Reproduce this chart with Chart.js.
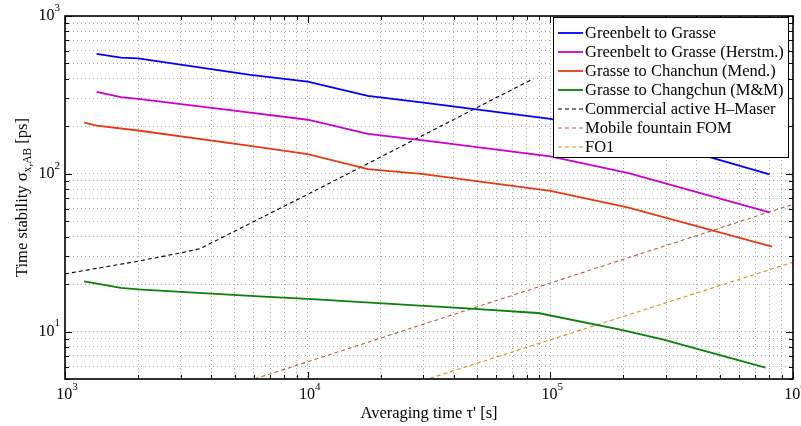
<!DOCTYPE html>
<html>
<head>
<meta charset="utf-8">
<script src="https://cdn.jsdelivr.net/npm/chart.js@4.4.1/dist/chart.umd.min.js"></script>
<style>
  html, body { margin: 0; padding: 0; background: #fff; }
  #wrap { width: 801px; height: 426px; }
</style>
</head>
<body>
<div id="wrap"><canvas id="stability-chart" width="801" height="426"></canvas></div>
<script>
// tick labels (powers of ten)
var xTicks = [1e3, 1e4, 1e5, 1e6];
var yTicks = [1e1, 1e2, 1e3];

// Greenbelt to Grasse
var g2gTau   = [1350, 1700, 2000, 5800, 10000, 17700, 30000, 100000, 200000, 450000, 800000];
var g2gSigma = [575, 545, 538, 423, 384, 312, 282, 223, 175, 128, 99];

// Greenbelt to Grasse (Herstm.)
var herTau   = [1350, 1700, 2000, 5800, 10000, 17700, 30000, 100000, 210000, 800000];
var herSigma = [330, 306, 298, 244, 220, 179, 163, 129, 101, 57];

// Grasse to Chanchun (Mend.)
var menTau   = [1200, 1350, 2000, 5800, 10000, 17700, 30000, 100000, 210000, 820000];
var menSigma = [211, 202, 188, 150, 133, 107, 99.6, 78, 61, 34.5];

// Grasse to Changchun (M&M)
var mmTau   = [1200, 1700, 2000, 6300, 10000, 29000, 42000, 89000, 192000, 290000, 770000];
var mmSigma = [20.8, 18.9, 18.5, 16.7, 16.1, 14.6, 14.1, 13.1, 10.3, 8.9, 5.9];

// Commercial active H-Maser
var maserTau   = [1000, 2000, 3000, 3600, 10000, 85000];
var maserSigma = [23.2, 27.9, 31.5, 33.5, 74, 400];

// Mobile fountain FOM
var fomTau   = [5000, 1000000];
var fomSigma = [4.55, 64];

// FO1
var fo1Tau   = [30000, 1000000];
var fo1Sigma = [4.9, 27.5];

var serif = '"Liberation Serif", "DejaVu Serif", serif';

function toPoints(tau, sigma) {
  var pts = [];
  for (var i = 0; i < tau.length; i++) {
    pts.push({ x: tau[i], y: sigma[i] });
  }
  return pts;
}

function series(label, tau, sigma, color, dashed) {
  return {
    label: label,
    data: toPoints(tau, sigma),
    borderColor: color,
    backgroundColor: color,
    borderWidth: dashed ? 1.1 : 1.8,
    borderDash: dashed ? [4, 3] : [],
    pointRadius: 0,
    tension: 0,
    fill: false
  };
}

// 1..9 x 10^n positions for the grid
function decadeGrid(lo, hi) {
  var vals = [];
  for (var e = Math.floor(Math.log10(lo)); e <= Math.ceil(Math.log10(hi)); e++) {
    for (var s = 1; s < 10; s++) {
      var v = s * Math.pow(10, e);
      if (v >= lo - 1e-9 && v <= hi + 1e-9) vals.push(v);
    }
  }
  return vals;
}

function drawPow(ctx, x, y, exp, align) {
  ctx.font = '16px ' + serif;
  var baseW = ctx.measureText('10').width;
  ctx.font = '11px ' + serif;
  var expW = ctx.measureText(String(exp)).width;
  var left = align === 'right' ? x - baseW - expW : x - (baseW + expW) / 2;
  ctx.textAlign = 'left';
  ctx.textBaseline = 'middle';
  ctx.font = '16px ' + serif;
  ctx.fillText('10', left, y);
  ctx.font = '11px ' + serif;
  ctx.fillText(String(exp), left + baseW, y - 8);
}

var framePlugin = {
  id: 'frame',
  afterDraw: function(chart) {
    var ctx = chart.ctx;
    var a = chart.chartArea;
    var xs = chart.scales.x, ys = chart.scales.y;
    ctx.save();
    ctx.fillStyle = '#000';
    ctx.strokeStyle = '#000';

    // inner tick marks on all four sides
    ctx.lineWidth = 1;
    xs.ticks.forEach(function(t) {
      var px = Math.round(xs.getPixelForValue(t.value)) + 0.5;
      var len = xTicks.indexOf(t.value) >= 0 ? 7 : 4;
      ctx.beginPath();
      ctx.moveTo(px, a.bottom); ctx.lineTo(px, a.bottom - len);
      ctx.moveTo(px, a.top); ctx.lineTo(px, a.top + len);
      ctx.stroke();
    });
    ys.ticks.forEach(function(t) {
      var py = Math.round(ys.getPixelForValue(t.value)) + 0.5;
      var len = yTicks.indexOf(t.value) >= 0 ? 7 : 4;
      ctx.beginPath();
      ctx.moveTo(a.left, py); ctx.lineTo(a.left + len, py);
      ctx.moveTo(a.right, py); ctx.lineTo(a.right - len, py);
      ctx.stroke();
    });

    // box
    ctx.lineWidth = 1.6;
    ctx.strokeRect(a.left, a.top, a.right - a.left, a.bottom - a.top);

    // tick labels
    xTicks.forEach(function(v) {
      drawPow(ctx, xs.getPixelForValue(v) + 2, a.bottom + 16, Math.round(Math.log10(v)), 'center');
    });
    yTicks.forEach(function(v) {
      drawPow(ctx, a.left - 5, ys.getPixelForValue(v), Math.round(Math.log10(v)), 'right');
    });

    // x title
    ctx.font = '16.5px ' + serif;
    ctx.textAlign = 'center';
    ctx.textBaseline = 'alphabetic';
    ctx.fillText('Averaging time \u03c4\' [s]', (a.left + a.right) / 2, 418);

    // y title with subscript
    ctx.save();
    ctx.translate(27, (a.top + a.bottom) / 2);
    ctx.rotate(-Math.PI / 2);
    var p1 = 'Time stability \u03c3', p2 = 'x,AB', p3 = ' [ps]';
    ctx.font = '16.5px ' + serif;
    var w1 = ctx.measureText(p1).width, w3 = ctx.measureText(p3).width;
    ctx.font = '11.5px ' + serif;
    var w2 = ctx.measureText(p2).width;
    var sx = -(w1 + w2 + w3) / 2;
    ctx.textAlign = 'left';
    ctx.font = '16.5px ' + serif;
    ctx.fillText(p1, sx, 0);
    ctx.font = '11.5px ' + serif;
    ctx.fillText(p2, sx + w1, 4);
    ctx.font = '16.5px ' + serif;
    ctx.fillText(p3, sx + w1 + w2, 0);
    ctx.restore();

    // legend box
    var lx = 553, ly = 17, lw = 235, lh = 140;
    ctx.fillStyle = '#fff';
    ctx.fillRect(lx, ly, lw, lh);
    ctx.lineWidth = 1;
    ctx.strokeStyle = '#000';
    ctx.strokeRect(lx + 0.5, ly + 0.5, lw, lh);
    ctx.font = '16.5px ' + serif;
    ctx.textAlign = 'left';
    ctx.textBaseline = 'middle';
    chart.data.datasets.forEach(function(ds, i) {
      var iy = 33 + i * 19;
      ctx.strokeStyle = ds.borderColor;
      ctx.lineWidth = ds.borderWidth;
      ctx.setLineDash(ds.borderDash);
      ctx.beginPath();
      ctx.moveTo(558, iy); ctx.lineTo(583, iy);
      ctx.stroke();
      ctx.setLineDash([]);
      ctx.fillStyle = '#000';
      ctx.fillText(ds.label, 585, iy + 1);
    });
    ctx.restore();
  }
};

var ctx = document.getElementById('stability-chart');

var stabilityChart = new Chart(ctx, {
  type: 'line',
  data: {
    datasets: [
      series('Greenbelt to Grasse', g2gTau, g2gSigma, '#0000ff', false),
      series('Greenbelt to Grasse (Herstm.)', herTau, herSigma, '#cc00cc', false),
      series('Grasse to Chanchun (Mend.)', menTau, menSigma, '#e63a10', false),
      series('Grasse to Changchun (M&M)', mmTau, mmSigma, '#0a800a', false),
      series('Commercial active H\u2013Maser', maserTau, maserSigma, '#000000', true),
      series('Mobile fountain FOM', fomTau, fomSigma, '#b8603c', true),
      series('FO1', fo1Tau, fo1Sigma, '#d09320', true)
    ]
  },
  options: {
    responsive: false,
    animation: false,
    devicePixelRatio: 1,
    layout: { padding: { left: 0, right: 8, top: 16, bottom: 0 } },
    plugins: { legend: { display: false }, tooltip: { enabled: false } },
    scales: {
      x: {
        type: 'logarithmic',
        min: 1e3,
        max: 1e6,
        afterBuildTicks: function(scale) {
          scale.ticks = decadeGrid(1e3, 1e6).map(function(v) { return { value: v }; });
        },
        afterFit: function(scale) { scale.height = 47; },
        ticks: { display: false, autoSkip: false },
        grid: { color: 'rgba(130,130,130,0.7)', lineWidth: 1, drawTicks: false },
        border: { display: false, dash: [1, 3] }
      },
      y: {
        type: 'logarithmic',
        min: 5,
        max: 1e3,
        afterBuildTicks: function(scale) {
          scale.ticks = decadeGrid(5, 1e3).map(function(v) { return { value: v }; });
        },
        afterFit: function(scale) { scale.width = 65; },
        ticks: { display: false, autoSkip: false },
        grid: { color: 'rgba(130,130,130,0.7)', lineWidth: 1, drawTicks: false },
        border: { display: false, dash: [1, 3] }
      }
    }
  },
  plugins: [framePlugin]
});
</script>
</body>
</html>
